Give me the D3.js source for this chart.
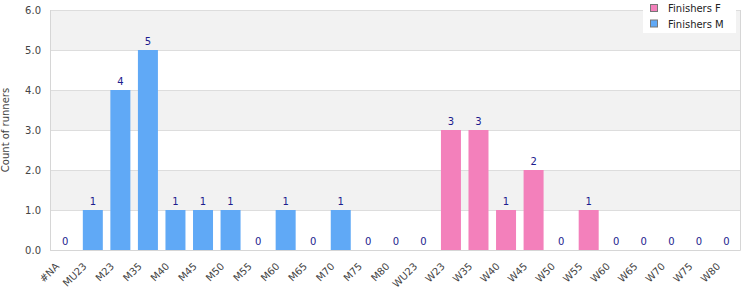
<!DOCTYPE html>
<html>
<head>
<meta charset="utf-8">
<script src="https://cdn.jsdelivr.net/npm/d3@7"></script>
<style>
  body { margin: 0; background: #fff; }
  text { font-family: "DejaVu Sans", sans-serif; }
</style>
</head>
<body>
<script>
// Age categories and counts per series
const categories = ["#NA","MU23","M23","M35","M40","M45","M50","M55","M60","M65","M70","M75","M80",
    "WU23","W23","W35","W40","W45","W50","W55","W60","W65","W70","W75","W80"];
const finishersM = [0,1,4,5,1,1,1,0,1,0,1,0,0, 0,0,0,0,0,0,0,0,0,0,0,0];
const finishersF = [0,0,0,0,0,0,0,0,0,0,0,0,0, 0,3,3,1,2,0,1,0,0,0,0,0];
const yTicks = [0,1,2,3,4,5,6];

const width = 750, height = 300;
const margin = {top: 10, right: 10, bottom: 50, left: 50};
const colorM = "#60a9f6", colorF = "#f380bb";

const svg = d3.select("body").append("svg")
    .attr("width", width)
    .attr("height", height);

const xscale = d3.scaleBand()
    .domain(categories)
    .range([51.5, 740.2])
    .paddingInner(0.274)
    .paddingOuter(0.137);

const yscale = d3.scaleLinear()
    .domain([0, 6])
    .range([height - margin.bottom, margin.top]);

// alternating background bands
const bands = d3.range(0, 6);
svg.selectAll("rect.band")
    .data(bands)
    .enter().append("rect")
    .attr("x", margin.left)
    .attr("y", d => yscale(d + 1))
    .attr("width", width - margin.left - margin.right)
    .attr("height", d => yscale(d) - yscale(d + 1))
    .attr("fill", d => d % 2 == 1 ? "#f2f2f2" : "#ffffff");

// grid lines
svg.selectAll("line.grid")
    .data(yTicks)
    .enter().append("line")
    .attr("x1", margin.left)
    .attr("x2", width - margin.right)
    .attr("y1", d => Math.round(yscale(d)) + 0.5)
    .attr("y2", d => Math.round(yscale(d)) + 0.5)
    .attr("stroke", "#dddddd");

// plot border (left, bottom, right)
svg.append("path")
    .attr("d", `M${margin.left + 0.5},${margin.top}V${height - margin.bottom + 0.5}H${width - margin.right + 0.5}V${margin.top}`)
    .attr("fill", "none")
    .attr("stroke", "#d6d6d6");

const data = categories.map((c, i) => ({cat: c, m: finishersM[i], f: finishersF[i]}));

// bars (stacked: M then F)
svg.selectAll("rect.m")
    .data(data.filter(d => d.m > 0))
    .enter().append("rect")
    .attr("x", d => xscale(d.cat))
    .attr("width", xscale.bandwidth())
    .attr("y", d => yscale(d.m))
    .attr("height", d => yscale(0) - yscale(d.m))
    .attr("fill", colorM);

svg.selectAll("rect.f")
    .data(data.filter(d => d.f > 0))
    .enter().append("rect")
    .attr("x", d => xscale(d.cat))
    .attr("width", xscale.bandwidth())
    .attr("y", d => yscale(d.m + d.f))
    .attr("height", d => yscale(d.m) - yscale(d.m + d.f))
    .attr("fill", colorF);

// value labels
svg.selectAll("text.val")
    .data(data)
    .enter().append("text")
    .attr("x", d => xscale(d.cat) + xscale.bandwidth() / 2)
    .attr("y", d => yscale(d.m + d.f) - 5)
    .attr("text-anchor", "middle")
    .attr("font-size", 10)
    .attr("fill", "#1c1c8e")
    .text(d => d.m + d.f);

// y axis labels
svg.selectAll("text.ytick")
    .data(yTicks)
    .enter().append("text")
    .attr("x", 41)
    .attr("y", d => yscale(d) + 4)
    .attr("text-anchor", "end")
    .attr("font-size", 10)
    .attr("fill", "#444")
    .text(d => d.toFixed(1));

svg.append("text")
    .attr("transform", `translate(9, ${(margin.top + height - margin.bottom) / 2}) rotate(-90)`)
    .attr("text-anchor", "middle")
    .attr("font-size", 10)
    .attr("fill", "#444")
    .text("Count of runners");

// x axis labels, rotated
svg.selectAll("text.xtick")
    .data(categories)
    .enter().append("text")
    .attr("transform", d => `translate(${xscale(d) + xscale.bandwidth() / 2 - 5.5}, 267) rotate(-45)`)
    .attr("text-anchor", "end")
    .attr("font-size", 10)
    .attr("fill", "#444")
    .text(d => d);

// legend
const legend = svg.append("g");
legend.append("rect")
    .attr("x", 643).attr("y", 0)
    .attr("width", 93).attr("height", 33)
    .attr("fill", "#fff");
const legendItems = [{name: "Finishers F", color: colorF}, {name: "Finishers M", color: colorM}];
legendItems.forEach((d, i) => {
    legend.append("rect")
        .attr("x", 650.5).attr("y", 4.5 + i * 15.5)
        .attr("width", 7).attr("height", 7)
        .attr("fill", d.color)
        .attr("stroke", "#777");
    legend.append("text")
        .attr("x", 668).attr("y", 12 + i * 15.5)
        .attr("font-size", 10)
        .attr("fill", "#222")
        .text(d.name);
});
</script>
</body>
</html>
